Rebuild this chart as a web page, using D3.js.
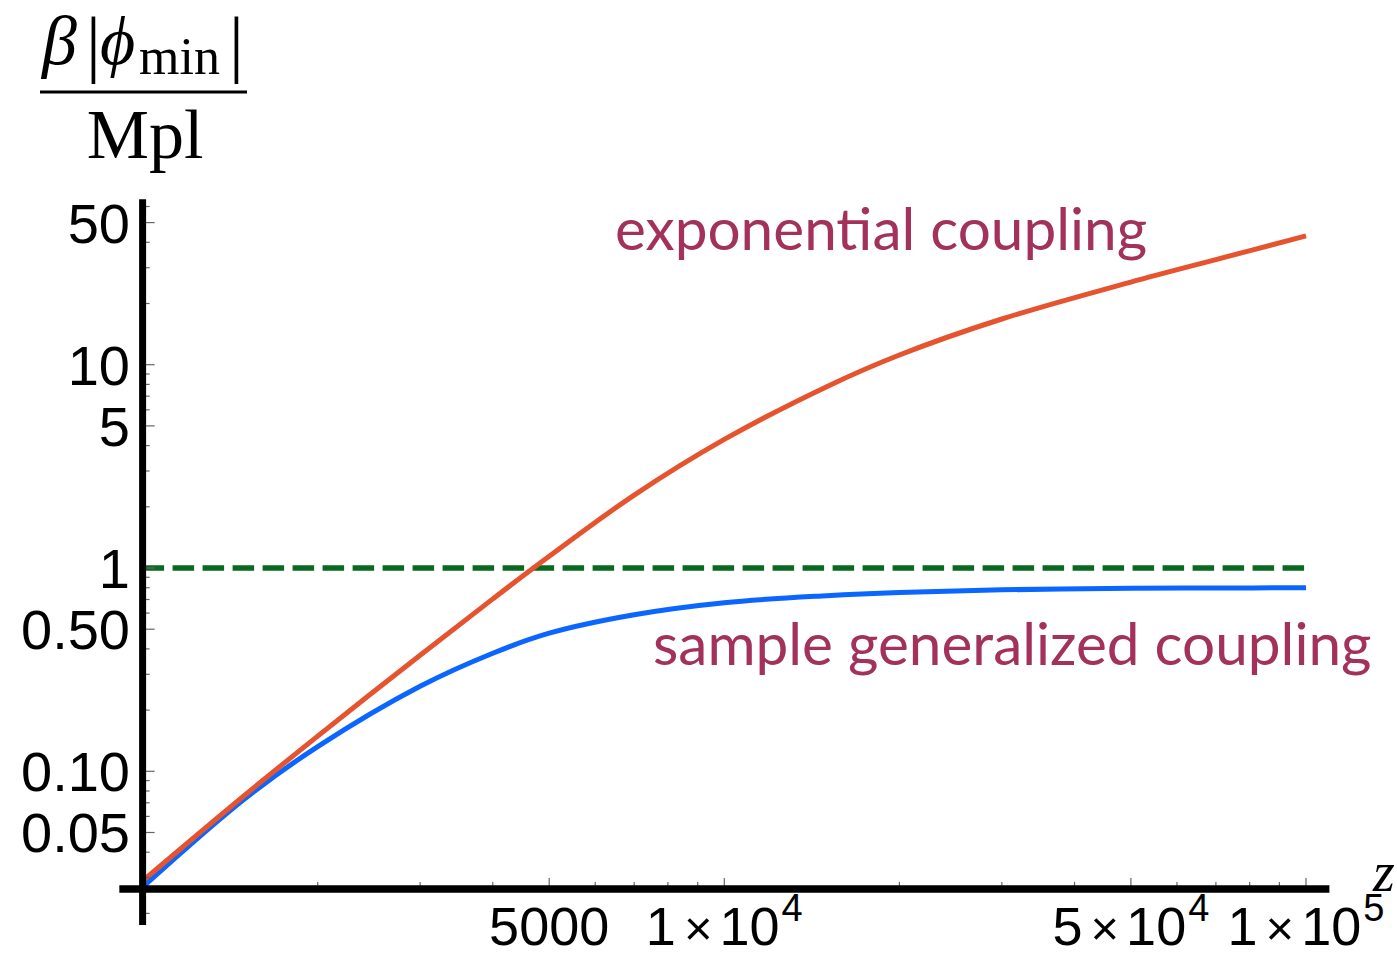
<!DOCTYPE html>
<html>
<head>
<meta charset="utf-8">
<script src="https://cdn.jsdelivr.net/npm/d3@7"></script>
<style>
  html, body { margin: 0; padding: 0; background: #ffffff; }
  svg { display: block; }
</style>
</head>
<body>
<svg id="chart" width="1397" height="957"></svg>
<script>
// Redshift samples and the two field-minimum curves, beta|phi_min|/Mpl
const zSamples = [1000, 1500, 2000, 3000, 4000, 5000, 7000, 10000, 15000, 20000, 30000, 50000, 70000, 100000];
const exponentialCoupling = [0.0289, 0.0765, 0.149, 0.3725, 0.705, 1.142, 2.284, 4.29, 7.80, 11.16, 16.78, 25.5, 32.9, 43.0];
const generalizedCoupling = [0.0269, 0.0734, 0.1323, 0.262, 0.381, 0.478, 0.589, 0.675, 0.731, 0.7585, 0.781, 0.794, 0.797, 0.800];
const referenceLevel = 1;

// Axis extents and ticks
const xExtent = [912, 109700];
const yExtent = [0.01754, 65.1];
const axesOrigin = [1000, 0.0264];
const xMajorTicks = [5000, 10000, 50000, 100000];
const xMajorLabels = [["5000"], ["1", "10", "4"], ["5", "10", "4"], ["1", "10", "5"]];
const xMinorTicks = [2000, 3000, 4000, 6000, 7000, 8000, 9000, 20000, 30000, 40000, 60000, 70000, 80000, 90000];
const yMajorTicks = [0.05, 0.1, 0.5, 1, 5, 10, 50];
const yMajorLabels = ["0.05", "0.10", "0.50", "1", "5", "10", "50"];
const yMinorTicks = [0.02, 0.03, 0.04, 0.06, 0.07, 0.08, 0.09, 0.2, 0.3, 0.4, 0.6, 0.7, 0.8, 0.9, 2, 3, 4, 6, 7, 8, 9, 20, 30, 40, 60];
const seriesLabels = ["exponential coupling", "sample generalized coupling"];

const svg = d3.select("#chart");

const x = d3.scaleLog().domain([1000, 100000]).range([142.6, 1306]);
const y = d3.scaleLog().domain([0.1, 10]).range([771.3, 364.7]);

const line = d3.line()
  .x(d => x(d[0]))
  .y(d => y(d[1]))
  .curve(d3.curveCatmullRom.alpha(0.5));

// Reference level at 1 (dashed)
svg.append("line")
  .attr("x1", x(axesOrigin[0])).attr("x2", x(100000))
  .attr("y1", y(referenceLevel)).attr("y2", y(referenceLevel))
  .attr("stroke", "#086a1f").attr("stroke-width", 5.5)
  .attr("stroke-dasharray", "21.5,8.5");

// Curves
svg.append("path")
  .datum(zSamples.map((z, i) => [z, generalizedCoupling[i]]))
  .attr("d", line)
  .attr("fill", "none").attr("stroke", "#0a66ff").attr("stroke-width", 5);

svg.append("path")
  .datum(zSamples.map((z, i) => [z, exponentialCoupling[i]]))
  .attr("d", line)
  .attr("fill", "none").attr("stroke", "#e5532f").attr("stroke-width", 5);

// Ticks
const xAxisY = y(axesOrigin[1]);
const yAxisX = x(axesOrigin[0]);
const tickColor = "#666";

svg.append("g").selectAll("line").data(xMinorTicks).join("line")
  .attr("x1", d => x(d)).attr("x2", d => x(d))
  .attr("y1", xAxisY).attr("y2", xAxisY - 7)
  .attr("stroke", tickColor).attr("stroke-width", 1.2);
svg.append("g").selectAll("line").data(xMajorTicks).join("line")
  .attr("x1", d => x(d)).attr("x2", d => x(d))
  .attr("y1", xAxisY).attr("y2", xAxisY - 11)
  .attr("stroke", tickColor).attr("stroke-width", 1.2);

svg.append("g").selectAll("line").data(yMinorTicks).join("line")
  .attr("x1", yAxisX).attr("x2", yAxisX + 7)
  .attr("y1", d => y(d)).attr("y2", d => y(d))
  .attr("stroke", tickColor).attr("stroke-width", 1.2);
svg.append("g").selectAll("line").data(yMajorTicks).join("line")
  .attr("x1", yAxisX).attr("x2", yAxisX + 12)
  .attr("y1", d => y(d)).attr("y2", d => y(d))
  .attr("stroke", tickColor).attr("stroke-width", 1.2);

// Axis lines
svg.append("line")
  .attr("x1", x(xExtent[0])).attr("x2", x(xExtent[1]))
  .attr("y1", xAxisY).attr("y2", xAxisY)
  .attr("stroke", "#000").attr("stroke-width", 7.5);
svg.append("line")
  .attr("x1", yAxisX).attr("x2", yAxisX)
  .attr("y1", y(yExtent[1])).attr("y2", y(yExtent[0]))
  .attr("stroke", "#000").attr("stroke-width", 7);

// Tick labels
const tickFont = "'Liberation Sans', Arial, sans-serif";
svg.append("g").selectAll("text").data(yMajorTicks).join("text")
  .attr("x", 130)
  .attr("y", d => y(d) + 20)
  .attr("text-anchor", "end")
  .attr("font-family", tickFont).attr("font-size", 56)
  .attr("fill", "#000")
  .text((d, i) => yMajorLabels[i]);

const xl = svg.append("g").selectAll("text").data(xMajorTicks).join("text")
  .attr("x", d => x(d))
  .attr("y", 945)
  .attr("text-anchor", "middle")
  .attr("font-family", tickFont).attr("font-size", 54)
  .attr("fill", "#000");
xl.each(function(d, i) {
  const parts = xMajorLabels[i];
  const t = d3.select(this);
  if (parts.length === 1) { t.text(parts[0]); return; }
  t.append("tspan").text(parts[0]);
  t.append("tspan").attr("dx", 8).attr("font-size", 49).text("\u00d7");
  t.append("tspan").attr("dx", 7).text(parts[1]);
  t.append("tspan").attr("dx", 2).attr("dy", -24).attr("font-size", 38).text(parts[2]);
});

// Axis titles
const serif = "'Liberation Serif', 'Times New Roman', serif";
const yTitle = svg.append("g").attr("font-family", serif).attr("fill", "#000");
yTitle.append("text").attr("x", 42).attr("y", 64).attr("font-size", 70).attr("font-style", "italic").text("\u03b2");
yTitle.append("text").attr("x", 86).attr("y", 68).attr("font-size", 74).text("|");
yTitle.append("text").attr("x", 100).attr("y", 64).attr("font-size", 68).attr("font-style", "italic").text("\u03d5");
yTitle.append("text").attr("x", 139).attr("y", 74).attr("font-size", 52).text("min");
yTitle.append("text").attr("x", 229).attr("y", 68).attr("font-size", 74).text("|");
yTitle.append("line").attr("x1", 40).attr("x2", 247).attr("y1", 92).attr("y2", 92)
  .attr("stroke", "#000").attr("stroke-width", 3);
yTitle.append("text").attr("x", 145).attr("y", 158).attr("text-anchor", "middle").attr("font-size", 70).text("Mpl");

svg.append("text").attr("x", 1373).attr("y", 891)
  .attr("font-family", serif).attr("font-style", "italic").attr("font-size", 56)
  .attr("fill", "#000").text("z");

// Curve labels
const labelFont = "Lato, 'Open Sans', sans-serif";
svg.append("text").attr("x", 615).attr("y", 250)
  .attr("font-family", labelFont).attr("font-size", 58.5).attr("fill", "#a3325b")
  .text(seriesLabels[0]);
svg.append("text").attr("x", 653).attr("y", 665)
  .attr("font-family", labelFont).attr("font-size", 58.5).attr("fill", "#a3325b")
  .text(seriesLabels[1]);
</script>
</body>
</html>
